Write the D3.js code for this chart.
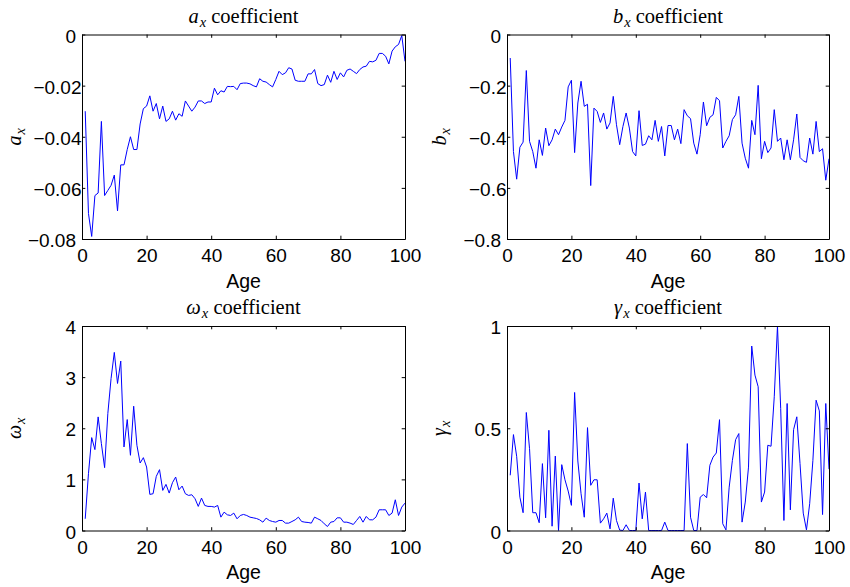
<!DOCTYPE html>
<html><head><meta charset="utf-8">
<script src="https://cdn.jsdelivr.net/npm/d3@7/dist/d3.min.js"></script>
<style>body{margin:0;background:#fff}</style>
</head><body><svg id="c" width="850" height="587" xmlns="http://www.w3.org/2000/svg"></svg>
<script>
// ---------------- data ----------------
const ages = d3.range(1, 101);
const xTicks = [0, 20, 40, 60, 80, 100];

const axValues = [-0.030,-0.070,-0.079,-0.063,-0.062,-0.034,-0.063,-0.061,-0.059,-0.055,
-0.069,-0.051,-0.051,-0.045,-0.040,-0.045,-0.045,-0.035,-0.029,-0.028,
-0.024,-0.030,-0.027,-0.033,-0.028,-0.034,-0.033,-0.030,-0.0335,-0.031,
-0.032,-0.026,-0.028,-0.030,-0.0284,-0.026,-0.026,-0.027,-0.0264,-0.0264,
-0.021,-0.0236,-0.022,-0.0225,-0.0203,-0.0204,-0.0203,-0.0216,-0.0192,-0.019,
-0.019,-0.0193,-0.0200,-0.0205,-0.0173,-0.0183,-0.0186,-0.0196,-0.0205,-0.0176,
-0.0144,-0.0157,-0.0150,-0.0130,-0.0135,-0.0179,-0.0183,-0.0183,-0.0183,-0.0154,
-0.0154,-0.0137,-0.0192,-0.0200,-0.0196,-0.0159,-0.0187,-0.0144,-0.0176,-0.0150,
-0.0166,-0.0140,-0.0135,-0.0144,-0.0153,-0.0137,-0.0127,-0.0124,-0.0105,-0.0107,
-0.0101,-0.0074,-0.0074,-0.0085,-0.0115,-0.0065,-0.0048,-0.0039,-0.0004,-0.0105];

const bxValues = [-0.092,-0.458,-0.566,-0.441,-0.421,-0.141,-0.418,-0.458,-0.523,-0.412,
-0.473,-0.366,-0.435,-0.412,-0.370,-0.392,-0.362,-0.336,-0.205,-0.179,
-0.462,-0.268,-0.183,-0.281,-0.273,-0.591,-0.288,-0.301,-0.344,-0.307,
-0.370,-0.346,-0.242,-0.353,-0.431,-0.360,-0.307,-0.366,-0.458,-0.475,
-0.298,-0.434,-0.429,-0.396,-0.412,-0.336,-0.418,-0.360,-0.475,-0.356,
-0.356,-0.412,-0.370,-0.427,-0.294,-0.318,-0.329,-0.425,-0.468,-0.392,
-0.264,-0.357,-0.324,-0.314,-0.246,-0.259,-0.444,-0.418,-0.396,-0.333,
-0.314,-0.242,-0.425,-0.484,-0.523,-0.336,-0.392,-0.199,-0.486,-0.418,
-0.462,-0.444,-0.294,-0.418,-0.405,-0.490,-0.412,-0.490,-0.412,-0.311,
-0.481,-0.494,-0.500,-0.405,-0.468,-0.340,-0.458,-0.447,-0.570,-0.486];

const wxValues = [0.229,1.111,1.817,1.582,2.222,1.699,1.229,2.288,2.974,3.484,
2.876,3.314,1.634,2.170,1.471,2.431,1.667,1.320,1.425,1.242,
0.706,0.719,1.059,1.190,0.784,0.902,0.732,0.935,1.046,0.797,
0.869,0.719,0.686,0.699,0.621,0.471,0.634,0.490,0.471,0.471,
0.458,0.490,0.261,0.359,0.307,0.294,0.340,0.229,0.294,0.314,
0.294,0.261,0.248,0.235,0.209,0.163,0.242,0.196,0.176,0.163,
0.196,0.196,0.144,0.144,0.176,0.209,0.261,0.176,0.163,0.157,
0.144,0.261,0.229,0.196,0.131,0.078,0.163,0.176,0.248,0.248,
0.163,0.163,0.144,0.118,0.196,0.275,0.163,0.275,0.209,0.209,
0.261,0.405,0.405,0.405,0.294,0.340,0.601,0.294,0.458,0.536];

const gxValues = [0.270,0.469,0.363,0.163,0.087,0.577,0.400,0.087,0.087,0.038,
0.327,0.062,0.490,0.021,0.364,0.000,0.322,0.248,0.193,0.123,
0.675,0.340,0.180,0.065,0.503,0.221,0.248,0.248,0.036,0.057,
0.085,0.008,0.158,0.049,0.002,0.000,0.028,0.000,0.000,0.000,
0.232,0.057,0.188,0.000,0.000,0.000,0.000,0.000,0.041,0.000,
0.000,0.000,0.000,0.000,0.000,0.425,0.065,0.000,0.000,0.163,
0.176,0.160,0.319,0.359,0.379,0.542,0.033,0.003,0.212,0.343,
0.444,0.474,0.041,0.139,0.310,0.902,0.760,0.703,0.139,0.188,
0.417,0.412,0.654,1.000,0.596,0.049,0.621,0.101,0.493,0.556,
0.327,0.085,0.003,0.131,0.343,0.637,0.585,0.078,0.621,0.300];

const axTicks = [0, -0.02, -0.04, -0.06, -0.08];
const bxTicks = [0, -0.2, -0.4, -0.6, -0.8];
const wxTicks = [0, 1, 2, 3, 4];
const gxTicks = [0, 0.5, 1];

const symbols = ["a", "b", "\u03c9", "\u03b3"];
const xLabel = "Age";
const titleSuffix = " coefficient";

// ---------------- layout ----------------
const svg = d3.select("#c");
const panels = [
  {vals: axValues, ticks: axTicks, dom: [-0.08, 0], sym: symbols[0], x0: 82,  x1: 405, y0: 34.5, y1: 239},
  {vals: bxValues, ticks: bxTicks, dom: [-0.8, 0],  sym: symbols[1], x0: 507, x1: 829, y0: 34.5, y1: 239},
  {vals: wxValues, ticks: wxTicks, dom: [0, 4],     sym: symbols[2], x0: 82,  x1: 405, y0: 326,  y1: 530.5},
  {vals: gxValues, ticks: gxTicks, dom: [0, 1],     sym: symbols[3], x0: 507, x1: 829, y0: 326,  y1: 530.5}
];

const SANS = "'Liberation Sans', Arial, Helvetica, sans-serif";
const SERIF = "'Liberation Serif', 'Times New Roman', serif";
const fmt = d => d === 0 ? "0" : String(d).replace("-", "\u2212");
const TL = 3.3;

panels.forEach(p => {
  const x = d3.scaleLinear().domain([0, 100]).range([p.x0, p.x1]);
  const y = d3.scaleLinear().domain(p.dom).range([p.y1, p.y0]);
  const g = svg.append("g");

  // line
  const line = d3.line().x((d, i) => x(ages[i])).y(d => y(d));
  g.append("path").datum(p.vals)
    .attr("fill", "none").attr("stroke", "#0000ff").attr("stroke-width", 1)
    .attr("stroke-linejoin", "round")
    .attr("d", line);

  // axes (ticks inward on all sides)
  const bottom = g.append("g").attr("transform", `translate(0,${p.y1})`)
    .call(d3.axisBottom(x).tickValues(xTicks).tickFormat(d3.format("d")).tickSizeInner(-TL).tickSizeOuter(0).tickPadding(10));
  const top = g.append("g").attr("transform", `translate(0,${p.y0})`)
    .call(d3.axisTop(x).tickValues(xTicks).tickFormat("").tickSizeInner(-TL).tickSizeOuter(0));
  const left = g.append("g").attr("transform", `translate(${p.x0},0)`)
    .call(d3.axisLeft(y).tickValues(p.ticks).tickFormat(fmt).tickSizeInner(-TL).tickSizeOuter(0).tickPadding(6));
  const right = g.append("g").attr("transform", `translate(${p.x1},0)`)
    .call(d3.axisRight(y).tickValues(p.ticks).tickFormat("").tickSizeInner(-TL).tickSizeOuter(0));

  [bottom, top, left, right].forEach(a => {
    a.selectAll("path.domain").attr("stroke", "#000").attr("stroke-width", 1);
    a.selectAll(".tick line").attr("stroke", "#000").attr("stroke-width", 1);
    a.selectAll("text").attr("fill", "#000").style("font-family", SANS).style("font-size", "19px");
  });
  const lowest = d3.min(p.ticks);
  left.selectAll(".tick text").attr("dy", "0.4em")
    .attr("dx", d => (d < 0 && d !== lowest) ? 5.5 : 0);

  // x label
  g.append("text").attr("x", (p.x0 + p.x1) / 2).attr("y", p.y1 + 48.5)
    .attr("text-anchor", "middle").style("font-family", SANS).style("font-size", "19.5px")
    .text(xLabel);

  // title
  const t = g.append("text").attr("x", (p.x0 + p.x1) / 2).attr("y", p.y0 - 12)
    .attr("text-anchor", "middle").style("font-family", SERIF).style("font-size", "20.5px");
  t.append("tspan").style("font-style", "italic").text(p.sym);
  t.append("tspan").style("font-style", "italic").style("font-size", "14.5px").attr("dx", 1).attr("dy", 4).text("x");
  t.append("tspan").attr("dy", -4).text(titleSuffix);

  // y label
  const yl = g.append("text")
    .attr("transform", `translate(${p.x0 - 61},${(p.y0 + p.y1) / 2}) rotate(-90)`)
    .attr("text-anchor", "middle").style("font-family", SERIF).style("font-size", "20px");
  yl.append("tspan").style("font-style", "italic").text(p.sym);
  yl.append("tspan").style("font-style", "italic").style("font-size", "14.5px").attr("dx", 1).attr("dy", 4).text("x");
});
</script>
</body></html>
